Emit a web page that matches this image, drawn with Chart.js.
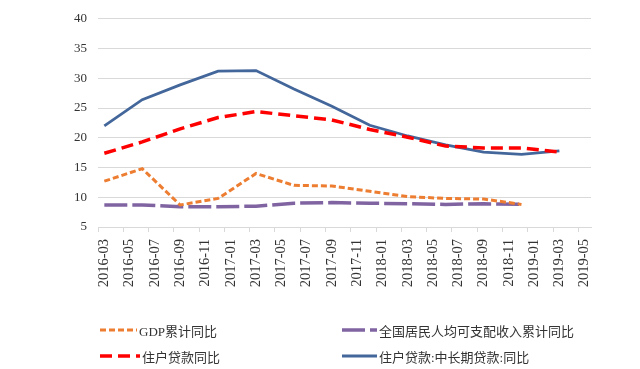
<!DOCTYPE html>
<html>
<head>
<meta charset="utf-8">
<script src="https://cdn.jsdelivr.net/npm/chart.js@4"></script>
<style>
  html, body { margin: 0; padding: 0; background: #fff; }
  #wrap { position: relative; width: 640px; height: 369px; }
  #chart { position: absolute; left: 0; top: 0; }
  .legend-item { position: absolute; display: flex; align-items: center; height: 20px;
    font-family: "Liberation Serif", "Noto Sans CJK SC", serif; font-size: 13px; color: #333; white-space: nowrap; }
  .legend-item svg { margin-right: 2px; }
</style>
</head>
<body>
<div id="wrap">
  <canvas id="chart" width="640" height="369"></canvas>
</div>
<script>
// monthly categories on the x axis, labelled every 2 months
const months = [];
for (let y = 2016; y <= 2019; y++) {
    for (let m = 1; m <= 12; m++) {
        const key = y + '-' + String(m).padStart(2, '0');
        if (key >= '2016-03' && key <= '2019-05') months.push(key);
    }
}

const quarters = ['2016-03', '2016-06', '2016-09', '2016-12', '2017-03', '2017-06', '2017-09',
    '2017-12', '2018-03', '2018-06', '2018-09', '2018-12', '2019-03'];

const gdpYoY     = [12.7, 14.8, 8.7, 9.8, 14.0, 12.0, 11.9, 11.0, 10.1, 9.8, 9.7, 8.8];
const incomeYoY  = [8.7, 8.7, 8.4, 8.4, 8.5, 9.0, 9.1, 9.0, 8.9, 8.8, 8.9, 8.8];
const loanYoY    = [17.4, 19.3, 21.5, 23.4, 24.4, 23.7, 23.0, 21.4, 20.1, 18.6, 18.3, 18.3, 17.6];
const longLoanYoY = [22.0, 26.4, 28.9, 31.2, 31.3, 28.2, 25.3, 22.1, 20.3, 18.8, 17.6, 17.2, 17.8];

const yTicks = [5, 10, 15, 20, 25, 30, 35, 40];

function pts(values) {
    return values.map((v, i) => ({ x: quarters[i], y: v }));
}

const series = [
    { label: 'GDP累计同比', data: gdpYoY, color: '#ED7D31', width: 3, dash: [6, 3], lx: 100, ly: 320, sw: 37 },
    { label: '全国居民人均可支配收入累计同比', data: incomeYoY, color: '#8064A2', width: 3.5, dash: [23, 5], lx: 342, ly: 320, sw: 35 },
    { label: '住户贷款同比', data: loanYoY, color: '#FF0000', width: 3.5, dash: [12, 6], lx: 100, ly: 346, sw: 40 },
    { label: '住户贷款:中长期贷款:同比', data: longLoanYoY, color: '#44679B', width: 2.8, dash: [], lx: 342, ly: 346, sw: 35 }
];

const ctx = document.getElementById('chart').getContext('2d');
new Chart(ctx, {
    type: 'line',
    data: {
        labels: months,
        datasets: series.map(s => ({
            label: s.label,
            data: pts(s.data),
            borderColor: s.color,
            borderWidth: s.width,
            borderDash: s.dash,
            pointRadius: 0,
            tension: 0,
            fill: false
        }))
    },
    options: {
        responsive: false,
        animation: false,
        layout: { padding: { top: 17, right: 49, left: 0, bottom: 0 } },
        plugins: { legend: { display: false }, tooltip: { enabled: false } },
        scales: {
            x: {
                type: 'category',
                offset: true,
                afterFit: sc => { sc.height = 369 - 227; },
                grid: {
                    offset: true,
                    drawOnChartArea: false,
                    drawTicks: true,
                    tickLength: 5,
                    color: c => (c.index % 2 === 0 ? '#d9d9d9' : 'rgba(0,0,0,0)')
                },
                border: { display: true, color: '#d9d9d9' },
                ticks: {
                    autoSkip: false,
                    maxRotation: 90,
                    minRotation: 90,
                    padding: 7,
                    color: '#333',
                    font: { family: 'Liberation Serif', size: 14.5 },
                    callback: (v, i) => (i % 2 === 0 ? months[i] : '')
                }
            },
            y: {
                min: 5,
                max: 40,
                afterFit: sc => { sc.width = 98; },
                afterBuildTicks: sc => { sc.ticks = yTicks.map(v => ({ value: v })); },
                grid: { color: '#d9d9d9', drawTicks: false },
                border: { display: false },
                ticks: {
                    padding: 11,
                    color: '#333',
                    font: { family: 'Liberation Serif', size: 13 }
                }
            }
        }
    }
});

// legend in two columns below the plot
const wrap = document.getElementById('wrap');
series.forEach(s => {
    const item = document.createElement('div');
    item.className = 'legend-item';
    item.style.left = s.lx + 'px';
    item.style.top = s.ly + 'px';
    const svgNS = 'http://www.w3.org/2000/svg';
    const svg = document.createElementNS(svgNS, 'svg');
    svg.setAttribute('width', s.sw);
    svg.setAttribute('height', 10);
    const line = document.createElementNS(svgNS, 'line');
    line.setAttribute('x1', 0);
    line.setAttribute('x2', s.sw);
    line.setAttribute('y1', 5);
    line.setAttribute('y2', 5);
    line.setAttribute('stroke', s.color);
    line.setAttribute('stroke-width', s.width);
    if (s.dash.length) line.setAttribute('stroke-dasharray', s.dash.join(' '));
    svg.appendChild(line);
    item.appendChild(svg);
    const txt = document.createElement('span');
    txt.textContent = s.label;
    item.appendChild(txt);
    wrap.appendChild(item);
});
</script>
</body>
</html>
